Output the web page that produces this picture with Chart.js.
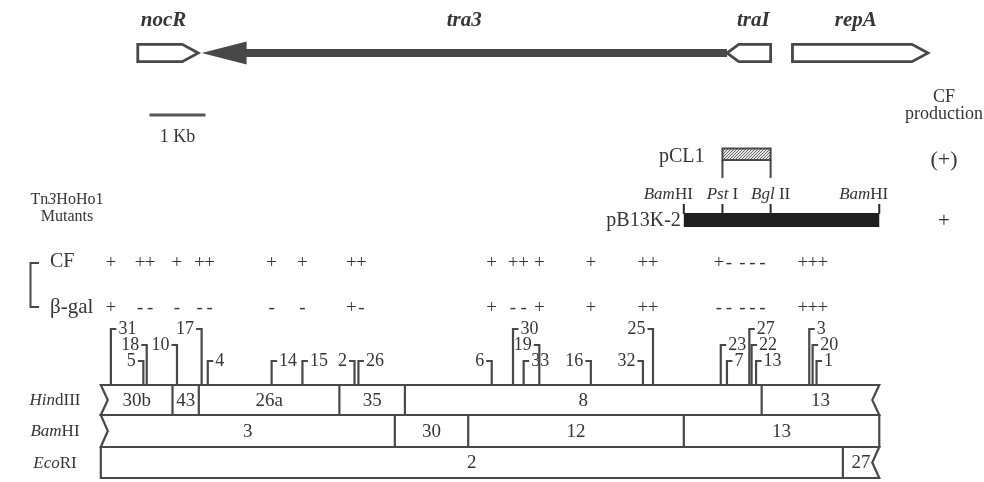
<!DOCTYPE html>
<html><head><meta charset="utf-8">
<script src="https://cdn.jsdelivr.net/npm/chart.js@4/dist/chart.umd.min.js"></script>
<style>html,body{margin:0;padding:0;background:#fff;overflow:hidden}#wrap{width:984px;height:482px}</style>
</head><body><div id="wrap"><canvas id="c" width="984" height="482"></canvas></div>
<script>
// ---------------- data (map positions in kb from left end of map) ----------------
const geneNames  = ['nocR', 'tra3', 'traI', 'repA'];
const geneStart  = [0.66, 1.80, 11.18, 12.35];
const geneEnd    = [1.74, 11.18, 11.96, 14.77];
const geneStrand = [1, -1, -1, 1];
const geneSolid  = [false, true, false, false];

const scaleBarKb = [0.87, 1.87];

const pB13Sites      = ['BamHI', 'PstI', 'BglII', 'BamHI'];
const pB13SitePos    = [10.41, 11.10, 11.96, 13.90];
const pCL1Span       = [11.10, 11.96];
const cfProduction   = ['(+)', '+'];

const hindIIICuts      = [0, 1.28, 1.75, 4.26, 5.43, 11.80, 13.90];
const hindIIIFragments = ['30b', '43', '26a', '35', '8', '13'];
const bamHICuts        = [0, 5.25, 6.56, 10.41, 13.90];
const bamHIFragments   = ['3', '30', '12', '13'];
const ecoRICuts        = [0, 13.25, 13.90];
const ecoRIFragments   = ['2', '27'];

const mutantIds   = ['31','5','18','10','17','4','14','15','2','26','6','30','33','19','16','32','25','23','7','27','22','13','3','20','1'];
const mutantPos   = [0.18,0.76,0.82,1.36,1.80,1.91,3.05,3.60,4.53,4.60,6.98,7.36,7.55,7.83,8.75,9.68,9.86,11.07,11.18,11.58,11.62,11.70,12.65,12.71,12.78];
const mutantLevel = [3,1,2,2,3,1,1,1,1,1,1,3,1,2,1,1,3,2,1,3,2,1,3,2,1];
const mutantSide  = ['R','L','L','L','L','R','R','R','L','R','L','R','R','L','L','L','L','R','R','R','R','R','R','R','R'];
const cfPhenotype = ['+','+','+','+','+','+','+','+','+','+','+','+','+','+','+','+','+','+','-','-','-','-','+','+','+'];
const betaGalPhenotype = ['+','-','-','-','-','-','-','-','+','-','+','-','-','+','+','+','+','-','-','-','-','-','+','+','+'];

// ---------------- drawing ----------------
const SERIF = '"Liberation Serif", "DejaVu Serif", serif';
const INK = '#353535';
const LINE = '#484848';

function font(size, italic, bold) {
  return (italic ? 'italic ' : '') + (bold ? 'bold ' : '') + size + 'px ' + SERIF;
}
function rich(ctx, parts, x, y, align, size) {
  let w = 0;
  parts.forEach(p => { ctx.font = font(size, p[1], false); w += ctx.measureText(p[0]).width; });
  let cx = align === 'center' ? x - w / 2 : align === 'right' ? x - w : x;
  ctx.textAlign = 'left';
  parts.forEach(p => { ctx.font = font(size, p[1], false); ctx.fillText(p[0], cx, y); cx += ctx.measureText(p[0]).width; });
}
function text(ctx, s, x, y, align, size, italic, bold) {
  ctx.font = font(size, italic, bold);
  ctx.textAlign = align;
  ctx.fillText(s, x, y);
}
function spread(vals, gap) {
  const groups = vals.map(v => ({ items: [v] }));
  const place = g => {
    const m = g.items.reduce((a, b) => a + b, 0) / g.items.length;
    g.start = m - (g.items.length - 1) * gap / 2;
    g.end = g.start + (g.items.length - 1) * gap;
  };
  groups.forEach(place);
  let merged = true;
  while (merged) {
    merged = false;
    for (let i = 0; i < groups.length - 1; i++) {
      if (groups[i + 1].start - groups[i].end < gap) {
        groups[i].items = groups[i].items.concat(groups[i + 1].items);
        groups.splice(i + 1, 1); place(groups[i]); merged = true; break;
      }
    }
  }
  const out = [];
  groups.forEach(g => g.items.forEach((_, k) => out.push(g.start + k * gap)));
  return out;
}
const enzymeParts = {
  BamHI: [['Bam', true], ['HI', false]],
  PstI: [['Pst', true], [' I', false]],
  BglII: [['Bgl', true], [' II', false]],
  HindIII: [['Hin', true], ['dIII', false]],
  EcoRI: [['Eco', true], ['RI', false]]
};

const mapPlugin = {
  id: 'geneticMap',
  afterDraw(chart) {
    const ctx = chart.ctx;
    const X = v => chart.scales.x.getPixelForValue(v);
    const Y = v => chart.scales.y.getPixelForValue(v);
    ctx.save();
    ctx.lineJoin = 'miter';
    ctx.textBaseline = 'middle';

    // ---- genes ----
    const gy = Y(53), gh = 8.7;
    geneNames.forEach((name, i) => {
      const a = X(geneStart[i]), b = X(geneEnd[i]);
      const s = geneStrand[i];
      const tip = s > 0 ? b : a, tail = s > 0 ? a : b;
      if (geneSolid[i]) {
        const hl = 45, hh = 11.5, sh = 4;
        const base = tip - s * hl;
        ctx.fillStyle = LINE;
        ctx.beginPath();
        ctx.moveTo(tip, gy);
        ctx.lineTo(base, gy - hh);
        ctx.lineTo(base, gy - sh);
        ctx.lineTo(tail, gy - sh);
        ctx.lineTo(tail, gy + sh);
        ctx.lineTo(base, gy + sh);
        ctx.lineTo(base, gy + hh);
        ctx.closePath();
        ctx.fill();
      } else {
        const hl = Math.min(16, Math.abs(b - a) * 0.27);
        const base = tip - s * hl;
        ctx.strokeStyle = LINE; ctx.lineWidth = 2.8; ctx.fillStyle = '#fff';
        ctx.beginPath();
        ctx.moveTo(tail, gy - gh);
        ctx.lineTo(base, gy - gh);
        ctx.lineTo(tip, gy);
        ctx.lineTo(base, gy + gh);
        ctx.lineTo(tail, gy + gh);
        ctx.closePath();
        ctx.fill(); ctx.stroke();
      }
      ctx.fillStyle = INK;
      let lx = (a + b) / 2;
      if (!geneSolid[i]) lx -= s * 4.5;
      text(ctx, name, lx, Y(21), 'center', 21, true, true);
    });

    // ---- scale bar ----
    ctx.strokeStyle = '#555'; ctx.lineWidth = 3; ctx.lineCap = 'butt';
    ctx.beginPath(); ctx.moveTo(X(scaleBarKb[0]), Y(115)); ctx.lineTo(X(scaleBarKb[1]), Y(115)); ctx.stroke();
    ctx.fillStyle = INK;
    text(ctx, (scaleBarKb[1] - scaleBarKb[0]) + ' Kb', (X(scaleBarKb[0]) + X(scaleBarKb[1])) / 2, Y(137), 'center', 18);

    // ---- CF production column ----
    const cx = 944;
    text(ctx, 'CF', cx, Y(97), 'center', 18);
    text(ctx, 'production', cx, Y(114), 'center', 18);
    text(ctx, cfProduction[0], cx, Y(160), 'center', 22);
    text(ctx, cfProduction[1], cx, Y(221), 'center', 21);

    // ---- pCL1 ----
    const pa = X(pCL1Span[0]), pb = X(pCL1Span[1]);
    const pat = document.createElement('canvas'); pat.width = 3; pat.height = 3;
    const pc = pat.getContext('2d'); pc.fillStyle = '#e4e4e4'; pc.fillRect(0, 0, 3, 3);
    pc.fillStyle = '#6a6a6a'; pc.fillRect(0, 0, 1, 1); pc.fillRect(1, 2, 1, 1); pc.fillRect(2, 1, 1, 1);
    ctx.fillStyle = ctx.createPattern(pat, 'repeat');
    ctx.fillRect(pa, Y(148.5), pb - pa, Y(160) - Y(148.5));
    ctx.strokeStyle = LINE; ctx.lineWidth = 2;
    ctx.strokeRect(pa, Y(148.5), pb - pa, Y(160) - Y(148.5));
    ctx.beginPath();
    ctx.moveTo(pa, Y(160)); ctx.lineTo(pa, Y(178));
    ctx.moveTo(pb, Y(160)); ctx.lineTo(pb, Y(178));
    ctx.stroke();
    ctx.fillStyle = INK;
    text(ctx, 'pCL1', pa - 18, Y(157), 'right', 20);

    // ---- pB13K-2 ----
    const ba = X(pB13SitePos[0]), bb = X(pB13SitePos[pB13SitePos.length - 1]);
    ctx.fillStyle = '#1e1e1e';
    ctx.fillRect(ba, Y(213), bb - ba, Y(227) - Y(213));
    ctx.strokeStyle = '#2a2a2a'; ctx.lineWidth = 2;
    ctx.beginPath();
    pB13SitePos.forEach(p => { ctx.moveTo(X(p), Y(204)); ctx.lineTo(X(p), Y(214)); });
    ctx.stroke();
    ctx.fillStyle = INK;
    pB13Sites.forEach((s, i) => {
      const px = X(pB13SitePos[i]);
      if (s === 'BamHI') rich(ctx, enzymeParts[s], px + 9, Y(195), 'right', 17);
      else rich(ctx, enzymeParts[s], px, Y(195), 'center', 17);
    });
    text(ctx, 'pB13K-2', ba - 3, Y(221), 'right', 20);

    // ---- mutant legend ----
    rich(ctx, [['Tn', false], ['3', true], ['HoHo1', false]], 67, Y(200), 'center', 16);
    text(ctx, 'Mutants', 67, Y(217), 'center', 16);

    // bracket
    ctx.strokeStyle = LINE; ctx.lineWidth = 2;
    ctx.beginPath();
    ctx.moveTo(39, Y(263)); ctx.lineTo(30.5, Y(263)); ctx.lineTo(30.5, Y(307)); ctx.lineTo(39, Y(307));
    ctx.stroke();
    text(ctx, 'CF', 50, Y(262), 'left', 20);
    text(ctx, '\u03B2-gal', 50, Y(307), 'left', 21);

    // phenotype signs
    const mx = mutantPos.map(X);
    const sx = spread(mx, 10);
    sx.forEach((x, i) => {
      text(ctx, cfPhenotype[i], x, Y(263), 'center', 19);
      text(ctx, betaGalPhenotype[i], x, Y(308), 'center', 19);
    });

    // ---- insertions ----
    const levelY = { 1: 361, 2: 345, 3: 329 };
    const rowTop = Y(385);
    ctx.strokeStyle = LINE; ctx.lineWidth = 2.2;
    mutantPos.forEach((p, i) => {
      const x = X(p), y = Y(levelY[mutantLevel[i]]);
      const d = mutantSide[i] === 'R' ? 1 : -1;
      ctx.beginPath();
      ctx.moveTo(x, rowTop); ctx.lineTo(x, y); ctx.lineTo(x + d * 5.5, y);
      ctx.stroke();
      ctx.fillStyle = INK;
      text(ctx, mutantIds[i], x + d * 7.5, y, d > 0 ? 'left' : 'right', 18);
    });

    // ---- restriction maps ----
    const rows = [
      { name: 'HindIII', cuts: hindIIICuts, frags: hindIIIFragments, top: 385, bot: 415, lb: true, rb: true },
      { name: 'BamHI', cuts: bamHICuts, frags: bamHIFragments, top: 415, bot: 447, lb: true, rb: false },
      { name: 'EcoRI', cuts: ecoRICuts, frags: ecoRIFragments, top: 447, bot: 478, lb: false, rb: true }
    ];
    rows.forEach(r => {
      const x0 = X(r.cuts[0]), x1 = X(r.cuts[r.cuts.length - 1]);
      const t = Y(r.top), bt = Y(r.bot), m = (t + bt) / 2;
      ctx.strokeStyle = LINE; ctx.lineWidth = 2.2; ctx.fillStyle = '#fff';
      ctx.beginPath();
      ctx.moveTo(x0, t); ctx.lineTo(x1, t);
      if (r.rb) ctx.lineTo(x1 - 7, m);
      ctx.lineTo(x1, bt); ctx.lineTo(x0, bt);
      if (r.lb) ctx.lineTo(x0 + 7, m);
      ctx.closePath();
      ctx.fill(); ctx.stroke();
      ctx.beginPath();
      for (let k = 1; k < r.cuts.length - 1; k++) { ctx.moveTo(X(r.cuts[k]), t); ctx.lineTo(X(r.cuts[k]), bt); }
      ctx.stroke();
      ctx.fillStyle = INK;
      r.frags.forEach((f, k) => {
        const fx = (X(r.cuts[k]) + X(r.cuts[k + 1])) / 2;
        text(ctx, f, fx, m + 1, 'center', 19);
      });
      rich(ctx, enzymeParts[r.name], 55, m + 1, 'center', 17);
    });
    ctx.restore();
  }
};

new Chart(document.getElementById('c'), {
  type: 'scatter',
  data: { datasets: [{ data: mutantPos.map(p => ({ x: p, y: 385 })), pointRadius: 0 }] },
  options: {
    responsive: false,
    animation: false,
    layout: { padding: 0 },
    plugins: { legend: { display: false }, tooltip: { enabled: false } },
    scales: {
      x: { type: 'linear', min: -1.8, max: 15.77, display: false },
      y: { type: 'linear', min: 0, max: 482, reverse: true, display: false }
    }
  },
  plugins: [mapPlugin]
});
</script>
</body></html>
